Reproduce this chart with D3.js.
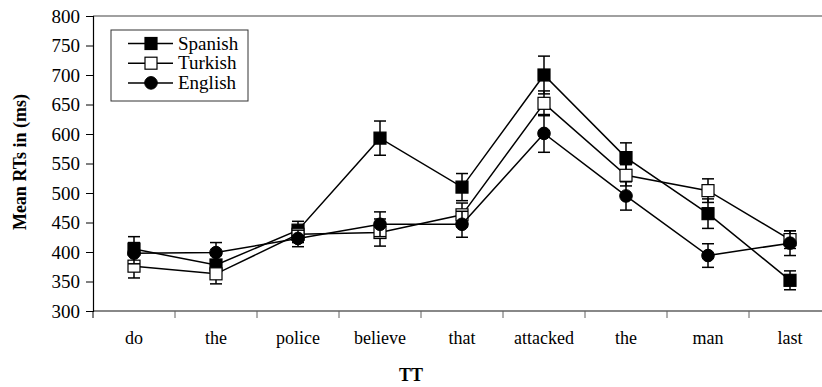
<!DOCTYPE html>
<html>
<head>
<meta charset="utf-8">
<script src="https://cdn.jsdelivr.net/npm/d3@7"></script>
<style>
  body { margin: 0; background: #fff; }
  svg { display: block; }
  svg text { font-family: "Liberation Serif", "Times New Roman", serif !important; fill: #000; }
</style>
</head>
<body>
<svg id="chart" width="822" height="387"></svg>
<script>
// Reading-time data per word position (ms), with standard errors
const categories = ["do", "the", "police", "believe", "that", "attacked", "the", "man", "last"];
const spanish    = [405, 378, 437, 593, 510, 700, 560, 465, 352];
const spanishErr = [21, 18, 15, 29, 23, 32, 25, 25, 16];
const turkish    = [376, 363, 430, 433, 463, 652, 530, 504, 421];
const turkishErr = [20, 17, 14, 23, 20, 21, 18, 20, 15];
const english    = [398, 399, 423, 447, 447, 601, 495, 394, 415];
const englishErr = [18, 17, 14, 21, 22, 32, 24, 20, 21];
const yTicks = [300, 350, 400, 450, 500, 550, 600, 650, 700, 750, 800];
const seriesNames = ["Spanish", "Turkish", "English"];

const series = [
  { name: seriesNames[0], values: spanish, err: spanishErr, shape: "square", fill: "#000" },
  { name: seriesNames[1], values: turkish, err: turkishErr, shape: "square", fill: "#fff" },
  { name: seriesNames[2], values: english, err: englishErr, shape: "circle", fill: "#000" }
];

const FONT = '"Liberation Serif", "Times New Roman", serif';
const svg = d3.select("#chart");
const plotLeft = 93, plotRight = 831, plotTop = 16, plotBottom = 311;

const x = d3.scaleBand().domain(d3.range(categories.length)).range([plotLeft, plotRight]);
const y = d3.scaleLinear().domain([300, 800]).range([plotBottom, plotTop]);
const cx = i => x(i) + x.bandwidth() / 2;

// top frame line
svg.append("line")
  .attr("x1", plotLeft).attr("x2", 822).attr("y1", plotTop).attr("y2", plotTop)
  .attr("stroke", "#808080").attr("stroke-width", 1.5);

// x axis
const xAxis = svg.append("g").attr("transform", `translate(0,${plotBottom})`)
  .call(d3.axisBottom(x).tickSize(0).tickFormat(i => categories[i]).tickPadding(20));
xAxis.attr("font-family", FONT);
xAxis.select(".domain").remove();
xAxis.selectAll("text").style("font-size", "18px").style("font-family", FONT);
svg.append("line")
  .attr("x1", plotLeft).attr("x2", 822).attr("y1", plotBottom).attr("y2", plotBottom)
  .attr("stroke", "#606060").attr("stroke-width", 1.5);
svg.append("g").selectAll("line")
  .data(d3.range(categories.length))
  .join("line")
  .attr("x1", i => x(i)).attr("x2", i => x(i))
  .attr("y1", plotBottom).attr("y2", plotBottom + 7)
  .attr("stroke", i => i === 0 ? "#000" : "#606060").attr("stroke-width", 1);

// y axis
const yAxis = svg.append("g").attr("transform", `translate(${plotLeft},0)`)
  .call(d3.axisLeft(y).tickValues(yTicks).tickSize(7).tickPadding(6));
yAxis.attr("font-family", FONT);
yAxis.select(".domain").attr("stroke", "#000").attr("stroke-width", 1.2);
yAxis.selectAll(".tick line").attr("stroke", "#000");
yAxis.selectAll("text").style("font-size", "19px").style("font-family", FONT);

// axis titles
svg.append("text")
  .attr("transform", "translate(26,162) rotate(-90)")
  .attr("text-anchor", "middle")
  .style("font-size", "18px").style("font-weight", "bold")
  .text("Mean RTs in (ms)");
svg.append("text")
  .attr("x", 411).attr("y", 381)
  .attr("text-anchor", "middle")
  .style("font-size", "18px").style("font-weight", "bold")
  .text("TT");

function drawMarker(g, shape, fill, px, py) {
  if (shape === "square") {
    g.append("rect")
      .attr("x", px - 6).attr("y", py - 6).attr("width", 12).attr("height", 12)
      .attr("fill", fill).attr("stroke", "#000").attr("stroke-width", 1.2);
  } else {
    g.append("circle")
      .attr("cx", px).attr("cy", py).attr("r", 6.3)
      .attr("fill", fill).attr("stroke", "#000").attr("stroke-width", 1);
  }
}

const line = d3.line().x((d, i) => cx(i)).y(d => y(d));

series.forEach(s => {
  const g = svg.append("g");
  g.append("path").datum(s.values)
    .attr("d", line).attr("fill", "none")
    .attr("stroke", "#000").attr("stroke-width", 1.5);
  s.values.forEach((v, i) => {
    const px = cx(i);
    const hi = y(v + s.err[i]), lo = y(v - s.err[i]);
    g.append("line").attr("x1", px).attr("x2", px).attr("y1", hi).attr("y2", lo)
      .attr("stroke", "#000").attr("stroke-width", 1.5);
    [hi, lo].forEach(yy => g.append("line")
      .attr("x1", px - 6).attr("x2", px + 6).attr("y1", yy).attr("y2", yy)
      .attr("stroke", "#000").attr("stroke-width", 1.5));
  });
  s.values.forEach((v, i) => drawMarker(g, s.shape, s.fill, cx(i), y(v)));
});

// legend
const lg = svg.append("g");
lg.append("rect")
  .attr("x", 111).attr("y", 30).attr("width", 137).attr("height", 71)
  .attr("fill", "#fff").attr("stroke", "#333").attr("stroke-width", 1);
series.forEach((s, k) => {
  const ly = 43.5 + k * 19.7;
  lg.append("line").attr("x1", 128).attr("x2", 173).attr("y1", ly).attr("y2", ly)
    .attr("stroke", "#000").attr("stroke-width", 1.5);
  drawMarker(lg, s.shape, s.fill, 151, ly);
  lg.append("text").attr("x", 178).attr("y", ly + 6)
    .style("font-size", "19px").text(s.name);
});
</script>
</body>
</html>
